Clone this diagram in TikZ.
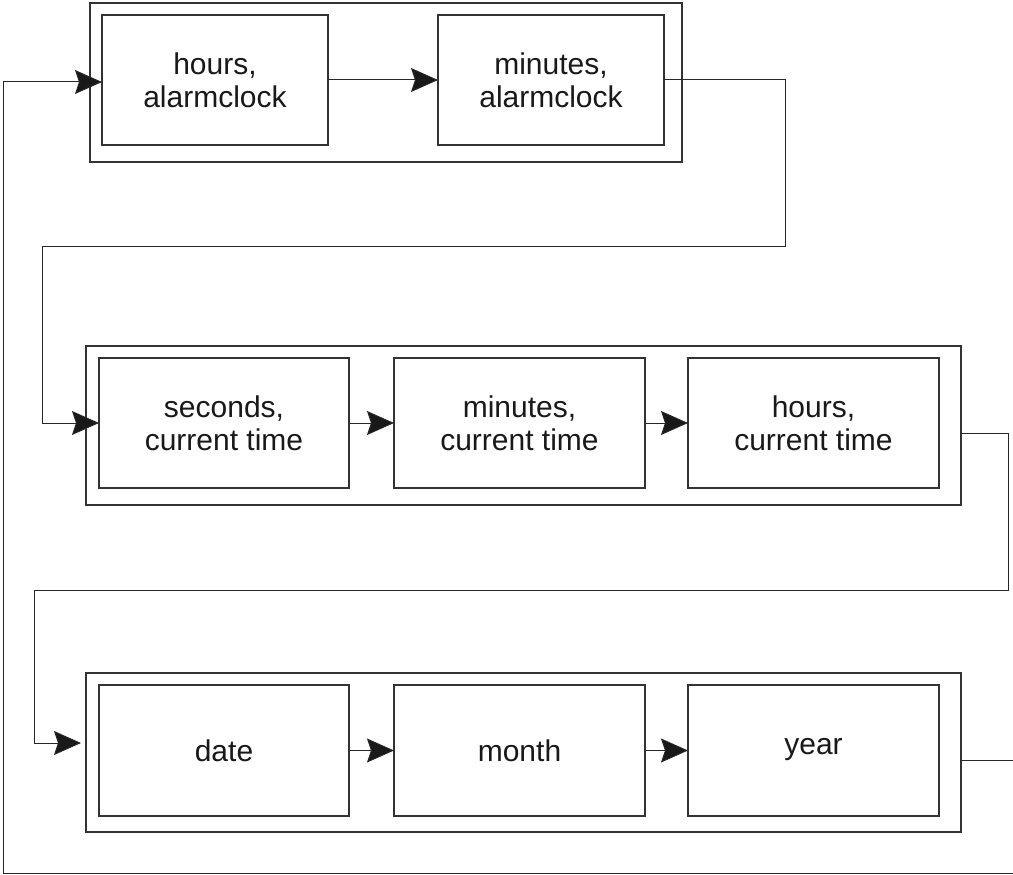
\documentclass[tikz,border=0pt]{standalone}
\usepackage{fontspec}
\setmainfont{Liberation Sans}
\usetikzlibrary{arrows.meta}
\begin{document}
\begin{tikzpicture}[x=1pt,y=-1pt,
  box/.style={draw=black!80,line width=1.1pt,rectangle,inner sep=0pt,outer sep=0pt,
    font=\fontsize{30}{33}\selectfont,align=center,text=black!90},
  frame/.style={draw=black!80,line width=1.1pt,rectangle,inner sep=0pt,outer sep=0pt},
  conn/.style={draw=black!85,line width=1pt},
  arr/.style={conn,-{Stealth[length=27pt,width=24pt,inset=4pt,fill=black!90]}}]
\useasboundingbox (0,0) rectangle (1013,875);
\clip (0,0) rectangle (1013,875);
\fill[white] (0,0) rectangle (1013,875);
% top row
\node[frame,minimum width=592pt,minimum height=159pt] (r1) at (386,82.5) {};
\node[box,minimum width=226pt,minimum height=130pt] (b1) at (215,80) {hours,\\alarmclock};
\node[box,minimum width=226pt,minimum height=130pt] (b2) at (551,80) {minutes,\\alarmclock};
% middle row
\node[frame,minimum width=875pt,minimum height=159pt] (r2) at (523.5,425.5) {};
\node[box,minimum width=250pt,minimum height=130pt] (c1) at (224,423) {seconds,\\current time};
\node[box,minimum width=251pt,minimum height=130pt] (c2) at (519.5,423) {minutes,\\current time};
\node[box,minimum width=251pt,minimum height=130pt] (c3) at (813.5,423) {hours,\\current time};
% bottom row
\node[frame,minimum width=875pt,minimum height=159pt] (r3) at (523.5,752.5) {};
\node[box,minimum width=250pt,minimum height=131pt] (d1) at (224,750.5) {date};
\node[box,minimum width=251pt,minimum height=131pt] (d2) at (519.5,750.5) {month};
\node[box,minimum width=251pt,minimum height=131pt] (d3) at (813.5,750.5) {\raisebox{9pt}{year}};
% connectors
\draw[arr] (b1) -- (b2);
\draw[arr] (c1) -- (c2);
\draw[arr] (c2) -- (c3);
\draw[arr] (d1) -- (d2);
\draw[arr] (d2) -- (d3);
\coordinate (dIn) at (81,743);
\draw[arr] (b2.east) -- (785,80) -- (785,246) -- (42,246) -- (42,423) -- (c1.west);
\draw[arr] (r2.east |- 0,433) -- (1008,433) -- (1008,590) -- (34,590) -- (34,743) -- (dIn);
\draw[arr] (r3.east |- 0,760) -- (1025,760) -- (1025,873) -- (3,873) -- (3,82) -- (b1.west |- 0,82);
\end{tikzpicture}
\end{document}
